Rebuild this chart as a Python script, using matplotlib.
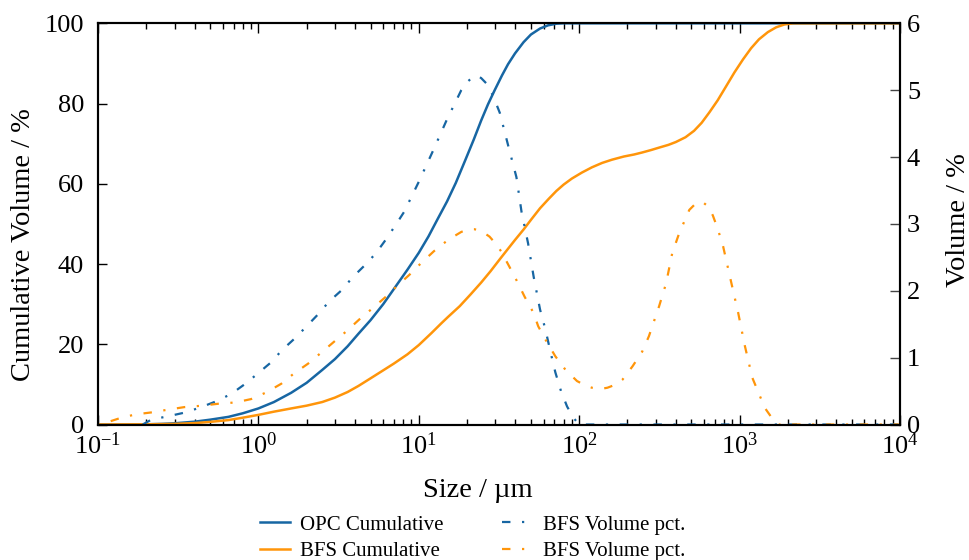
import matplotlib
matplotlib.use("Agg")
import matplotlib.pyplot as plt
from matplotlib.ticker import LogLocator, LogFormatterMathtext, NullFormatter, MultipleLocator

plt.rcParams['font.family'] = ['Liberation Serif', 'DejaVu Serif']
plt.rcParams['mathtext.fontset'] = 'custom'
plt.rcParams['mathtext.rm'] = 'Liberation Serif'
plt.rcParams['axes.unicode_minus'] = False

# ---------------- data ----------------
opc_cum_size = [0.1, 0.15, 0.2, 0.25, 0.3, 0.4, 0.5, 0.65, 0.8, 1.0, 1.25, 1.6, 2.0, 2.5, 3.0,
                3.6, 4.2, 5.0, 6.0, 7.0, 8.5, 10, 11.5, 13.1, 15, 17, 19.4, 22, 24.5, 27,
                29.7, 33, 36, 39.8, 45, 50, 57, 64, 72, 80, 10000]
opc_cum = [0, 0, 0.05, 0.15, 0.3, 0.7, 1.2, 1.9, 2.8, 4.0, 5.6, 7.9, 10.4, 13.6, 16.3,
           19.5, 22.6, 26, 30, 33.8, 38.6, 42.8, 46.9, 51.2, 55.6, 60.2, 65.7, 71, 75.8, 79.8,
           83.3, 87, 89.8, 92.5, 95.3, 97.2, 98.7, 99.5, 99.9, 100, 100]

bfs_cum_size = [0.1, 0.2, 0.3, 0.4, 0.5, 0.65, 0.8, 1.0, 1.25, 1.6, 2.0, 2.5, 3.0, 3.6, 4.2,
                5.0, 6.0, 7.0, 8.5, 10, 12, 13.8, 15.2, 18, 21, 24.5, 28, 32, 36, 39.8, 45,
                50, 57, 64.4, 72, 80, 90, 104, 120, 139, 160, 190, 220, 247, 280, 320, 360,
                400, 460, 520, 580, 648, 730, 824, 930, 1050, 1180, 1320, 1500, 1690, 1900,
                2150, 10000]
bfs_cum = [0, 0.05, 0.15, 0.35, 0.65, 1.1, 1.7, 2.4, 3.2, 4.0, 4.7, 5.6, 6.7, 8.1, 9.6,
           11.5, 13.5, 15.2, 17.5, 19.8, 22.8, 25.2, 26.8, 29.5, 32.4, 35.4, 38.2, 41.2, 43.8,
           46, 48.6, 51, 53.9, 56.2, 58.2, 59.8, 61.3, 62.8, 64.1, 65.2, 66, 66.8, 67.3,
           67.8, 68.4, 69.1, 69.7, 70.4, 71.6, 73.2, 75.2, 77.8, 80.8, 84.3, 87.8, 91, 93.8,
           96, 97.8, 99, 99.7, 100, 100]

opc_vol_size = [0.19, 0.216, 0.27, 0.35, 0.44, 0.55, 0.68, 0.83, 1.0, 1.2, 1.4, 1.69, 2.0, 2.36,
                2.76, 3.31, 3.86, 4.6, 5.4, 6.25, 7.2, 8.1, 10, 12.3, 14.9, 18.4, 20, 21.8,
                23, 24.5, 26.4, 29, 32, 36, 40.6, 43.7, 48, 52, 57, 61.6, 66, 71, 77, 84, 92,
                100, 10000]
opc_vol = [0, 0.075, 0.12, 0.18, 0.26, 0.35, 0.46, 0.61, 0.77, 0.93, 1.11, 1.29, 1.47, 1.65,
           1.84, 2.01, 2.2, 2.38, 2.56, 2.77, 2.99, 3.18, 3.63, 4.1, 4.55, 5.0, 5.12, 5.2,
           5.22, 5.18, 5.1, 4.92, 4.66, 4.18, 3.7, 3.18, 2.71, 2.21, 1.72, 1.42, 1.1, 0.78,
           0.5, 0.27, 0.1, 0, 0]

bfs_vol_size = [0.12, 0.133, 0.17, 0.214, 0.27, 0.345, 0.44, 0.56, 0.72, 0.9, 1.12, 1.39, 1.66,
                2.04, 2.45, 2.97, 3.56, 4.25, 5.1, 6.16, 7.3, 8.75, 10.3, 12.4, 15.2, 18.4,
                20.5, 22.3, 25, 27.6, 30, 32.6, 36.7, 40.6, 45.7, 51.9, 55.5, 62.6, 71, 82,
                96.9, 110, 120, 135, 150, 170, 186, 215, 247, 272, 315, 348, 380, 420, 486,
                530, 585, 630, 680, 730, 790, 880, 980, 1075, 1200, 1435, 1620, 1750, 10000]
bfs_vol = [0.05, 0.085, 0.15, 0.18, 0.22, 0.26, 0.28, 0.31, 0.33, 0.38, 0.48, 0.61, 0.76,
           0.91, 1.07, 1.24, 1.4, 1.57, 1.73, 1.9, 2.07, 2.24, 2.41, 2.59, 2.76, 2.88,
           2.92, 2.92, 2.88, 2.81, 2.71, 2.59, 2.36, 2.16, 1.91, 1.67, 1.47, 1.24, 1.02, 0.82,
           0.65, 0.58, 0.55, 0.53, 0.55, 0.6, 0.67, 0.87, 1.09, 1.32, 1.77, 2.11, 2.56, 2.86,
           3.21, 3.3, 3.33, 3.27, 3.13, 2.93, 2.66, 2.16, 1.67, 1.19, 0.70, 0.25, 0.07, 0.0,
           0.0]

labels = ["OPC Cumulative", "BFS Cumulative", "BFS Volume pct.", "BFS Volume pct."]
xlabel = "Size / µm"
ylabel_left = "Cumulative Volume / %"
ylabel_right = "Volume / %"

BLUE = '#1766a3'
ORANGE = '#ff950a'
dashdot = (0, (3.8, 5.2, 1.0, 5.2))

# ---------------- figure ----------------
fig = plt.figure(figsize=(9.69, 5.6), dpi=100)
ax = fig.add_axes([98/969, 1 - 424.5/560, (900-98)/969, (424.5-23.3)/560])
ax2 = ax.twinx()

l1, = ax.plot(opc_cum_size, opc_cum, color=BLUE, lw=1.8, label=labels[0])
l2, = ax.plot(bfs_cum_size, bfs_cum, color=ORANGE, lw=1.8, label=labels[1])
l3, = ax2.plot(opc_vol_size, opc_vol, color=BLUE, lw=1.6, ls=dashdot, label=labels[2])
l4, = ax2.plot(bfs_vol_size, bfs_vol, color=ORANGE, lw=1.6, ls=dashdot, label=labels[3])

ax.set_xscale('log')
ax.set_xlim(0.1, 1e4)
ax.set_ylim(0, 100)
ax2.set_ylim(0, 6)

ax.xaxis.set_major_locator(LogLocator(base=10, numticks=10))
ax.xaxis.set_minor_locator(LogLocator(base=10, subs=range(2, 10), numticks=20))
ax.xaxis.set_major_formatter(LogFormatterMathtext())
ax.xaxis.set_minor_formatter(NullFormatter())
ax.yaxis.set_major_locator(MultipleLocator(20))
ax2.yaxis.set_major_locator(MultipleLocator(1))

for a in (ax, ax2):
    for s in a.spines.values():
        s.set_linewidth(1.5)

ax.tick_params(axis='x', which='major', direction='in', length=7, width=1.0,
               top=True, bottom=True, labelsize=19, pad=6)
ax.tick_params(axis='x', which='minor', direction='in', length=4, width=1.0,
               top=True, bottom=True)
ax.tick_params(axis='y', which='major', direction='in', length=6.5, width=1.0,
               left=True, right=False, labelsize=19, pad=10)
ax2.tick_params(axis='y', which='major', direction='in', length=7, width=1.0,
                right=True, left=False, labelsize=19, pad=5, color='#444444')

ax.set_xlabel(xlabel, fontsize=20.5)
ax.xaxis.set_label_coords(0.474, -0.133)
ax.set_ylabel(ylabel_left, fontsize=20.5)
ax.yaxis.set_label_coords(-0.077, 0.448)
ax2.set_ylabel(ylabel_right, fontsize=20.5)
ax2.yaxis.set_label_coords(1.057, 0.51)

fig.legend(handles=[l1, l2, l3, l4], labels=labels, ncol=2, frameon=False,
           loc='upper left', bbox_to_anchor=(260/969, 1 - 515/560),
           borderaxespad=0, borderpad=0, fontsize=15, handlelength=1.44,
           handletextpad=0.5, columnspacing=2.8, labelspacing=0.32)

fig.savefig('out.png', dpi=100)
